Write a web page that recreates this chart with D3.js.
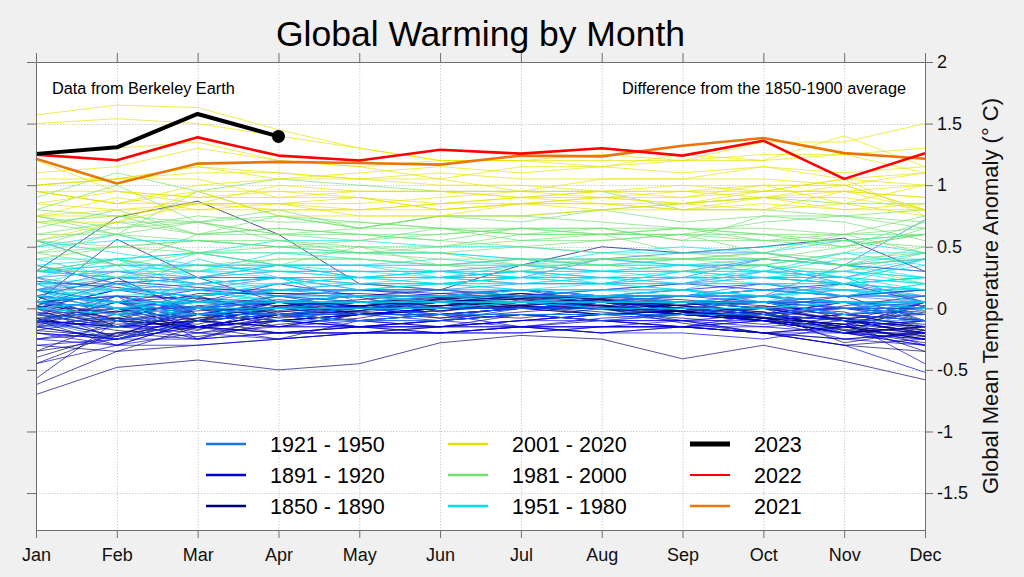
<!DOCTYPE html>
<html><head><meta charset="utf-8">
<script src="https://cdn.jsdelivr.net/npm/d3@7"></script>
<style>
body{margin:0;background:#f0f0f0;}
svg{display:block;font-family:Arial,"Liberation Sans",sans-serif;}
</style>
</head><body>
<svg id="chart" width="1024" height="577"></svg>
<script>
// ---------------- DATA ----------------
const months = ["Jan","Feb","Mar","Apr","May","Jun","Jul","Aug","Sep","Oct","Nov","Dec"];
const yTickValues = [-1.5,-1,-0.5,0,0.5,1,1.5,2];
const titleText = "Global Warming by Month";
const sourceNote = "Data from Berkeley Earth";
const baselineNote = "Difference from the 1850-1900 average";
const yLabel = "Global Mean Temperature Anomaly (° C)";

// monthly anomalies, one row per year
const years1850_1890 = [
[-0.62,-0.35,-0.30,-0.25,-0.10,-0.05,-0.08,0.00,-0.12,-0.20,-0.30,-0.35],
[-0.10,0.05,-0.05,-0.02,0.05,0.08,0.10,0.05,0.02,0.10,0.05,0.02],
[0.05,-0.10,-0.15,-0.05,0.00,0.05,0.02,0.00,-0.05,-0.08,0.02,0.10],
[0.00,-0.15,-0.10,-0.05,-0.02,0.05,0.00,0.05,-0.05,0.02,-0.10,-0.15],
[-0.05,-0.10,-0.02,0.00,0.05,0.02,0.08,0.05,0.00,0.05,-0.08,-0.05],
[0.10,-0.15,-0.05,0.00,0.02,0.05,0.10,0.08,0.05,0.00,-0.10,-0.20],
[-0.12,-0.02,-0.17,-0.07,-0.02,0.08,0.03,0.06,-0.02,-0.07,-0.17,-0.22],
[-0.08,-0.18,-0.23,-0.13,-0.08,0.02,0.05,-0.01,-0.05,-0.03,-0.28,-0.18],
[-0.35,-0.25,-0.15,-0.05,0.00,0.05,0.00,-0.05,-0.02,-0.08,-0.20,-0.10],
[0.05,0.10,0.08,0.05,0.02,0.05,0.10,0.05,0.00,-0.05,-0.15,-0.20],
[-0.03,-0.13,-0.08,0.02,0.07,0.12,0.09,0.05,0.02,-0.03,-0.18,-0.23],
[-0.57,-0.10,-0.15,-0.10,-0.05,0.00,0.02,-0.05,-0.02,-0.10,-0.20,-0.15],
[-0.70,-0.48,-0.42,-0.50,-0.45,-0.28,-0.22,-0.25,-0.41,-0.30,-0.43,-0.58],
[0.05,0.56,0.25,0.05,-0.05,0.00,0.05,0.02,-0.05,0.00,0.10,-0.10],
[-0.45,-0.20,-0.10,-0.15,-0.05,-0.02,0.05,0.00,-0.10,-0.20,-0.15,-0.25],
[0.00,-0.25,-0.10,0.05,0.02,0.05,0.08,0.10,0.05,0.00,-0.05,-0.02],
[0.15,0.05,-0.10,0.00,0.05,0.02,0.10,0.05,0.00,-0.05,-0.10,-0.15],
[-0.15,0.10,-0.25,-0.05,-0.02,0.05,0.08,0.02,0.05,0.00,-0.10,-0.20],
[-0.35,-0.10,0.10,-0.05,0.00,0.05,0.02,0.08,0.00,-0.10,-0.20,0.05],
[0.10,0.25,-0.05,0.05,0.00,0.02,0.05,0.00,0.05,-0.05,0.00,-0.10],
[-0.18,-0.08,-0.13,0.02,0.05,0.09,0.12,0.07,0.02,-0.03,-0.08,-0.23],
[-0.08,-0.23,0.02,0.07,0.02,0.07,0.12,0.07,-0.03,-0.08,-0.18,-0.28],
[-0.13,-0.08,-0.18,0.02,0.05,0.07,0.12,0.09,0.07,0.02,-0.03,-0.18],
[-0.05,-0.15,-0.05,-0.10,-0.05,0.00,0.05,0.00,-0.05,-0.10,-0.05,-0.15],
[0.10,-0.10,-0.15,-0.05,-0.10,-0.05,0.00,-0.05,-0.02,-0.10,-0.20,-0.15],
[-0.10,-0.30,-0.10,-0.15,-0.05,0.00,0.00,0.03,-0.05,-0.10,-0.20,-0.15],
[0.05,-0.05,-0.20,-0.10,-0.05,-0.02,0.02,0.00,-0.02,0.00,-0.20,-0.30],
[-0.05,0.00,-0.10,0.05,0.10,0.15,0.35,0.50,0.45,0.50,0.57,0.30],
[0.30,0.74,0.87,0.60,0.20,0.15,0.10,0.05,0.00,-0.05,-0.15,-0.25],
[0.02,-0.03,0.02,-0.08,-0.03,0.02,0.05,0.07,-0.03,-0.08,-0.13,-0.35],
[0.02,-0.08,0.07,0.02,-0.03,-0.08,-0.03,0.02,-0.03,-0.08,-0.13,-0.03],
[-0.08,-0.03,0.12,0.12,0.09,-0.03,0.07,0.02,-0.03,-0.08,-0.13,0.02],
[0.22,0.17,0.09,-0.03,0.02,-0.08,0.02,0.07,0.02,-0.08,-0.08,-0.18],
[-0.18,-0.23,-0.08,-0.03,0.02,0.07,0.02,-0.03,-0.08,-0.13,-0.08,-0.13],
[-0.10,0.00,-0.15,-0.20,-0.15,-0.20,-0.15,-0.10,-0.15,-0.20,-0.25,-0.20],
[-0.40,-0.20,-0.15,-0.25,-0.20,-0.15,-0.10,-0.05,-0.05,-0.10,-0.05,0.00],
[-0.15,-0.25,-0.10,-0.05,-0.10,-0.15,-0.05,-0.10,-0.05,-0.10,-0.15,-0.20],
[-0.30,-0.35,-0.15,-0.20,-0.15,-0.10,-0.05,-0.10,-0.15,-0.20,-0.15,-0.25],
[-0.25,-0.20,-0.25,-0.10,-0.05,-0.05,0.00,0.00,0.03,0.05,0.00,0.00],
[0.02,0.22,0.17,0.12,0.12,0.09,0.07,0.02,-0.03,-0.08,-0.13,-0.18],
[-0.10,-0.15,-0.10,-0.20,-0.20,-0.15,-0.15,-0.20,-0.15,-0.20,-0.30,-0.25]
];
const years1891_1920 = [
[-0.10,-0.22,0.00,-0.05,0.02,-0.05,0.00,0.05,0.00,-0.05,-0.15,0.05],
[-0.12,0.05,-0.15,-0.10,-0.15,-0.10,-0.15,-0.08,-0.05,-0.10,-0.20,-0.25],
[-0.45,-0.30,-0.10,-0.15,-0.15,-0.10,-0.05,-0.10,-0.10,-0.05,-0.10,-0.20],
[-0.15,-0.05,0.00,-0.05,-0.10,-0.10,-0.05,-0.05,-0.05,0.00,-0.05,0.00],
[-0.20,-0.25,-0.10,-0.05,-0.05,0.00,0.00,0.05,0.05,0.00,0.00,-0.05],
[0.05,0.00,-0.05,0.00,0.05,0.10,0.15,0.10,0.10,0.15,0.10,0.15],
[0.10,0.05,0.10,0.15,0.15,0.10,0.15,0.10,0.05,0.05,0.00,-0.05],
[0.05,0.00,-0.15,-0.05,-0.05,0.00,0.00,0.00,-0.05,-0.10,-0.15,-0.10],
[0.00,-0.10,-0.05,0.00,0.00,0.05,0.10,0.15,0.20,0.15,0.20,0.05],
[0.00,0.15,0.15,0.15,0.15,0.12,0.15,0.10,0.15,0.20,0.10,0.10],
[0.10,0.05,0.15,0.10,0.05,0.05,0.05,0.00,0.00,-0.05,-0.10,-0.15],
[0.05,0.10,0.00,0.00,-0.05,-0.10,-0.05,-0.10,-0.10,-0.15,-0.20,-0.25],
[-0.05,0.10,-0.05,-0.10,-0.15,-0.20,-0.15,-0.20,-0.15,-0.20,-0.25,-0.30],
[-0.30,-0.25,-0.25,-0.20,-0.20,-0.20,-0.15,-0.15,-0.15,-0.10,-0.05,-0.10],
[-0.15,-0.25,-0.05,-0.10,-0.05,-0.05,0.00,0.00,0.00,-0.05,0.05,0.00],
[-0.05,-0.15,-0.05,0.05,-0.05,0.00,0.00,0.05,-0.05,0.00,-0.10,0.05],
[-0.20,-0.25,-0.15,-0.20,-0.20,-0.20,-0.15,-0.15,-0.15,-0.10,-0.25,-0.20],
[-0.15,-0.10,-0.25,-0.20,-0.15,-0.15,-0.15,-0.15,-0.10,-0.20,-0.20,-0.20],
[-0.25,-0.15,-0.20,-0.25,-0.20,-0.20,-0.20,-0.15,-0.15,-0.15,-0.10,-0.30],
[-0.10,-0.15,-0.15,-0.10,-0.15,-0.15,-0.10,-0.10,-0.15,-0.20,-0.30,-0.52],
[-0.25,-0.30,-0.30,-0.25,-0.20,-0.20,-0.20,-0.15,-0.15,-0.05,0.00,0.00],
[0.00,-0.05,0.00,0.05,0.00,-0.05,-0.15,-0.20,-0.20,-0.25,-0.15,-0.10],
[-0.10,-0.15,-0.15,-0.05,-0.15,-0.15,-0.10,-0.05,-0.05,-0.05,0.05,0.05],
[0.15,0.05,0.00,0.05,0.10,0.10,0.10,0.10,0.10,0.15,0.10,0.15],
[0.00,0.15,0.05,0.20,0.10,0.10,0.15,0.05,0.10,0.05,0.05,0.00],
[0.05,0.00,-0.05,-0.05,-0.10,-0.15,-0.10,-0.05,-0.10,-0.10,-0.20,-0.30],
[-0.20,-0.30,-0.20,-0.15,-0.15,-0.10,0.00,0.05,0.05,-0.05,-0.10,-0.45],
[-0.10,-0.15,0.00,-0.15,-0.10,-0.05,0.00,0.00,0.05,0.05,0.05,0.05],
[0.10,0.00,0.00,0.10,0.00,0.00,0.05,0.05,0.05,0.05,-0.05,-0.10],
[0.05,0.00,0.05,0.05,0.00,0.00,0.00,0.05,0.05,0.05,-0.05,-0.10]
];
const years1921_1950 = [
[0.15,0.00,0.05,0.00,0.00,0.00,0.05,0.00,0.05,0.10,0.00,0.05],
[-0.05,-0.15,-0.05,-0.05,-0.10,-0.05,-0.05,-0.10,-0.05,-0.05,0.00,-0.05],
[-0.05,-0.10,-0.05,-0.10,-0.10,-0.05,-0.05,-0.05,0.00,0.05,0.10,0.05],
[0.00,-0.10,0.00,-0.05,-0.05,-0.05,-0.05,-0.05,-0.05,-0.05,-0.10,-0.10],
[-0.10,0.00,0.00,0.05,0.00,0.00,0.00,0.05,0.05,0.10,0.15,0.10],
[0.25,0.15,0.20,0.10,0.05,0.05,0.05,0.05,0.05,0.10,0.05,0.00],
[0.05,0.00,-0.05,0.00,0.00,0.00,0.05,0.05,0.10,0.10,0.05,-0.10],
[0.10,0.05,-0.05,0.00,0.00,0.00,0.05,0.05,0.05,0.05,0.05,0.00],
[-0.10,-0.25,-0.10,-0.05,-0.10,-0.10,-0.05,-0.05,-0.05,0.00,0.05,-0.15],
[0.00,0.05,0.05,0.05,0.05,0.05,0.05,0.10,0.10,0.10,0.20,0.10],
[0.10,0.05,0.05,0.05,0.05,0.10,0.15,0.10,0.10,0.15,0.10,0.15],
[0.25,0.05,0.00,0.10,0.10,0.05,0.05,0.05,0.10,0.10,0.00,0.05],
[0.00,-0.05,-0.05,-0.05,0.00,-0.05,0.00,0.00,0.00,0.00,-0.05,-0.10],
[0.05,0.10,0.00,0.05,0.10,0.05,0.05,0.05,0.05,0.05,0.10,0.10],
[0.00,0.20,0.05,0.00,0.00,0.00,0.05,0.05,0.05,0.05,-0.05,0.05],
[0.05,0.00,0.05,0.05,0.10,0.10,0.10,0.10,0.10,0.15,0.15,0.15],
[0.15,0.20,0.05,0.15,0.20,0.20,0.25,0.25,0.25,0.25,0.20,0.15],
[0.30,0.25,0.25,0.25,0.15,0.15,0.15,0.15,0.20,0.30,0.25,0.05],
[0.15,0.15,0.10,0.15,0.15,0.15,0.10,0.15,0.15,0.10,0.35,0.72],
[0.15,0.25,0.20,0.25,0.25,0.25,0.30,0.25,0.25,0.25,0.25,0.40],
[0.25,0.30,0.25,0.30,0.30,0.30,0.35,0.30,0.30,0.40,0.35,0.30],
[0.35,0.20,0.25,0.25,0.25,0.25,0.20,0.20,0.20,0.25,0.20,0.25],
[0.15,0.30,0.20,0.25,0.20,0.15,0.20,0.20,0.25,0.40,0.35,0.40],
[0.55,0.35,0.35,0.35,0.35,0.35,0.40,0.40,0.45,0.45,0.35,0.30],
[0.35,0.20,0.25,0.35,0.25,0.25,0.25,0.40,0.35,0.35,0.20,0.05],
[0.20,0.20,0.15,0.25,0.05,0.00,0.10,0.10,0.15,0.05,0.05,-0.10],
[0.05,-0.05,0.10,0.15,0.10,0.10,0.15,0.10,0.10,0.20,0.15,0.05],
[0.20,0.00,-0.05,0.10,0.15,0.15,0.10,0.05,0.10,0.10,0.05,-0.05],
[0.15,-0.05,0.05,0.05,0.05,0.00,0.05,0.05,0.05,0.05,0.00,0.00],
[-0.15,-0.15,0.00,-0.05,0.00,0.05,0.05,0.00,0.00,-0.05,-0.20,0.00]
];
const years1951_1980 = [
[0.00,-0.05,0.10,0.20,0.25,0.25,0.30,0.30,0.35,0.35,0.25,0.35],
[0.30,0.25,0.20,0.25,0.20,0.20,0.25,0.25,0.25,0.20,0.10,0.20],
[0.30,0.35,0.35,0.35,0.30,0.30,0.25,0.25,0.25,0.25,0.20,0.25],
[0.05,0.20,0.05,0.05,0.05,0.05,0.05,0.05,0.05,0.10,0.15,0.05],
[0.20,0.00,-0.05,0.00,0.05,0.05,0.05,0.10,0.05,0.05,-0.05,0.00],
[0.00,-0.05,0.00,0.00,0.00,0.00,0.05,0.05,0.05,0.00,0.05,0.05],
[0.10,0.15,0.10,0.20,0.25,0.30,0.30,0.30,0.25,0.25,0.30,0.40],
[0.55,0.45,0.35,0.30,0.30,0.25,0.30,0.25,0.25,0.30,0.30,0.25],
[0.30,0.30,0.35,0.30,0.25,0.25,0.25,0.25,0.20,0.20,0.20,0.25],
[0.20,0.35,0.00,0.15,0.15,0.20,0.20,0.25,0.25,0.25,0.20,0.40],
[0.30,0.40,0.30,0.35,0.35,0.30,0.25,0.30,0.30,0.25,0.30,0.20],
[0.30,0.35,0.30,0.30,0.25,0.30,0.25,0.25,0.30,0.30,0.30,0.25],
[0.25,0.40,0.15,0.20,0.25,0.25,0.35,0.35,0.40,0.40,0.35,0.25],
[0.20,0.15,0.15,0.05,0.05,0.10,0.05,0.00,0.00,0.00,0.05,0.00],
[0.15,0.10,0.15,0.05,0.10,0.10,0.10,0.10,0.10,0.15,0.10,0.20],
[0.15,0.15,0.25,0.15,0.20,0.20,0.25,0.20,0.20,0.20,0.20,0.15],
[0.15,0.05,0.20,0.20,0.20,0.25,0.20,0.25,0.20,0.35,0.25,0.20],
[0.05,0.15,0.40,0.25,0.15,0.20,0.20,0.20,0.15,0.30,0.20,0.15],
[0.20,0.25,0.30,0.45,0.40,0.35,0.35,0.30,0.35,0.35,0.45,0.45],
[0.35,0.40,0.25,0.35,0.25,0.20,0.25,0.20,0.30,0.25,0.25,0.15],
[0.10,0.05,0.05,0.10,0.10,0.05,0.15,0.15,0.10,0.15,0.15,0.15],
[0.00,0.05,0.20,0.25,0.25,0.30,0.30,0.40,0.35,0.40,0.35,0.45],
[0.50,0.55,0.55,0.50,0.45,0.45,0.40,0.35,0.35,0.30,0.25,0.20],
[0.05,0.00,0.10,0.15,0.15,0.20,0.15,0.20,0.15,0.10,0.15,0.10],
[0.30,0.30,0.30,0.25,0.25,0.20,0.15,0.10,0.15,0.10,0.05,0.05],
[0.10,0.00,0.05,0.15,0.10,0.10,0.15,0.15,0.15,0.05,0.20,0.25],
[0.30,0.40,0.45,0.45,0.45,0.45,0.40,0.35,0.35,0.30,0.45,0.35],
[0.40,0.40,0.45,0.35,0.35,0.25,0.30,0.20,0.30,0.30,0.40,0.40],
[0.40,0.25,0.45,0.35,0.35,0.40,0.35,0.45,0.45,0.50,0.55,0.60],
[0.50,0.60,0.45,0.55,0.55,0.50,0.50,0.45,0.50,0.45,0.55,0.45]
];
const years1981_2000 = [
[0.75,0.60,0.70,0.55,0.50,0.50,0.55,0.60,0.45,0.40,0.50,0.70],
[0.30,0.40,0.30,0.40,0.40,0.35,0.40,0.35,0.40,0.35,0.45,0.65],
[0.80,0.75,0.70,0.60,0.60,0.55,0.50,0.55,0.60,0.45,0.60,0.45],
[0.45,0.35,0.45,0.35,0.50,0.35,0.35,0.40,0.40,0.40,0.35,0.20],
[0.35,0.25,0.35,0.40,0.40,0.35,0.30,0.40,0.40,0.40,0.35,0.40],
[0.45,0.50,0.45,0.45,0.45,0.40,0.40,0.40,0.40,0.45,0.40,0.45],
[0.45,0.60,0.45,0.50,0.55,0.60,0.65,0.60,0.65,0.60,0.60,0.75],
[0.75,0.65,0.75,0.70,0.70,0.65,0.60,0.60,0.60,0.55,0.50,0.60],
[0.40,0.50,0.55,0.55,0.45,0.50,0.60,0.60,0.60,0.60,0.50,0.60],
[0.60,0.60,0.95,0.75,0.70,0.65,0.60,0.65,0.55,0.75,0.75,0.65],
[0.70,0.75,0.60,0.75,0.65,0.75,0.75,0.70,0.65,0.55,0.55,0.60],
[0.70,0.60,0.55,0.50,0.45,0.45,0.35,0.35,0.30,0.35,0.30,0.45],
[0.55,0.50,0.55,0.50,0.50,0.45,0.50,0.45,0.40,0.45,0.35,0.50],
[0.55,0.35,0.60,0.60,0.55,0.65,0.55,0.55,0.60,0.70,0.75,0.70],
[0.80,1.00,0.70,0.75,0.65,0.75,0.75,0.80,0.70,0.75,0.70,0.55],
[0.60,0.70,0.60,0.65,0.60,0.55,0.65,0.65,0.55,0.55,0.60,0.60],
[0.55,0.65,0.70,0.60,0.65,0.75,0.70,0.80,0.85,0.90,0.85,0.85],
[0.90,1.10,0.95,1.05,1.00,0.95,0.95,0.95,0.80,0.80,0.75,0.80],
[0.65,0.80,0.60,0.65,0.60,0.60,0.65,0.60,0.65,0.65,0.60,0.65],
[0.50,0.70,0.70,0.80,0.65,0.65,0.65,0.65,0.65,0.60,0.55,0.50]
];
const years2001_2020 = [
[0.70,0.70,0.85,0.80,0.80,0.80,0.85,0.85,0.80,0.80,0.95,0.80],
[1.00,1.05,1.05,0.90,0.90,0.85,0.90,0.85,0.85,0.80,0.85,0.75],
[0.95,0.85,0.85,0.85,0.90,0.80,0.85,0.90,0.90,1.00,0.85,1.00],
[0.85,0.95,0.85,0.85,0.75,0.75,0.75,0.80,0.85,0.90,1.00,0.80],
[0.95,0.85,0.95,0.95,0.95,0.95,0.95,0.90,0.95,0.95,0.95,0.90],
[0.75,0.90,0.80,0.80,0.80,0.85,0.85,0.90,0.85,0.95,0.95,1.00],
[1.20,0.95,0.90,0.95,0.90,0.80,0.85,0.85,0.80,0.85,0.80,0.80],
[0.55,0.70,0.95,0.75,0.75,0.75,0.85,0.80,0.80,0.90,0.90,0.80],
[0.85,0.80,0.80,0.85,0.85,0.90,0.95,0.95,0.95,0.90,0.95,0.90],
[1.00,1.05,1.15,1.10,1.05,1.00,1.00,0.95,0.90,0.95,1.05,0.75],
[0.75,0.75,0.85,0.85,0.80,0.85,0.90,0.90,0.85,0.90,0.80,0.85],
[0.75,0.80,0.85,1.00,0.95,0.95,0.90,0.95,0.95,1.00,1.00,0.80],
[0.95,0.95,0.90,0.90,0.95,0.95,0.90,0.95,1.00,0.95,1.05,1.00],
[0.95,0.85,1.00,1.05,1.05,1.05,0.95,1.05,1.05,1.05,1.00,1.10],
[1.05,1.05,1.15,1.05,1.10,1.15,1.10,1.15,1.20,1.35,1.35,1.50],
[1.57,1.65,1.63,1.45,1.30,1.20,1.20,1.25,1.20,1.20,1.25,1.10],
[1.25,1.30,1.35,1.20,1.15,1.05,1.15,1.15,1.10,1.15,1.10,1.15],
[1.00,1.05,1.10,1.10,1.05,1.10,1.05,1.05,1.05,1.15,1.05,1.10],
[1.10,1.15,1.30,1.20,1.15,1.20,1.20,1.20,1.20,1.25,1.25,1.30],
[1.50,1.54,1.50,1.40,1.30,1.20,1.20,1.15,1.25,1.20,1.40,1.15]
];
const values2021 = [1.215,1.013,1.175,1.189,1.18,1.167,1.24,1.234,1.32,1.383,1.26,1.215];
const values2022 = [1.248,1.202,1.388,1.24,1.20,1.288,1.256,1.30,1.24,1.361,1.051,1.26];
const values2023 = [1.254,1.307,1.578,1.396];

const groupNames = ["1850 - 1890","1891 - 1920","1921 - 1950","1951 - 1980","1981 - 2000","2001 - 2020"];
const groupColors = ["#000072","#0000e0","#1a78e6","#00e2ea","#70e070","#e4e400"];
const groupData = [years1850_1890,years1891_1920,years1921_1950,years1951_1980,years1981_2000,years2001_2020];

const highlightNames = ["2023","2022","2021"];
const highlightColors = ["#000000","#ff0000","#e8760c"];
const highlightWidths = [4,2.6,2.6];
const highlightLegendWidths = [5,2.2,2.6];
const highlightData = [values2023,values2022,values2021];

// ---------------- LAYOUT ----------------
const W = 1024, H = 577;
const margin = {left:36, right:99, top:62, bottom:47};
const svg = d3.select("#chart");
svg.append("rect").attr("width",W).attr("height",H).attr("fill","#f0f0f0");

const x = d3.scaleLinear().domain([0,11]).range([margin.left, W-margin.right]);
const y = d3.scaleLinear().domain([-1.8,2]).range([H-margin.bottom, margin.top]);
const x0 = x.range()[0], x1 = x.range()[1], y0 = y.range()[0], y1 = y.range()[1];

svg.append("rect").attr("x",x0).attr("y",y1).attr("width",x1-x0).attr("height",y0-y1).attr("fill","#ffffff");

// grid
const grid = svg.append("g").attr("stroke","#cfcfcf").attr("stroke-width",1).attr("stroke-dasharray","1.5,1.5");
grid.selectAll("line.v").data(d3.range(1,11)).join("line")
  .attr("x1",d=>x(d)+0.5).attr("x2",d=>x(d)+0.5).attr("y1",y1).attr("y2",y0);
grid.selectAll("line.h").data(yTickValues.filter(v=>v<2)).join("line")
  .attr("x1",x0).attr("x2",x1).attr("y1",d=>Math.round(y(d))+0.5).attr("y2",d=>Math.round(y(d))+0.5);

// lines
const line = d3.line().x((d,i)=>x(i)).y(d=>y(d));
const plot = svg.append("g");
groupData.forEach((rows,gi)=>{
  plot.append("g").selectAll("path").data(rows).join("path")
    .attr("d",line).attr("fill","none")
    .attr("stroke",groupColors[gi]).attr("stroke-width",1).attr("stroke-opacity",0.68);
});
[2,1,0].forEach(i=>{
  plot.append("path").datum(highlightData[i]).attr("d",line).attr("fill","none")
    .attr("stroke",highlightColors[i]).attr("stroke-width",highlightWidths[i])
    .attr("stroke-linejoin","round");
});
plot.append("circle").attr("cx",x(values2023.length-1)).attr("cy",y(values2023[values2023.length-1]))
  .attr("r",6.5).attr("fill","#000");

// axes
const axisColor = "#6e6e6e";
function styleAxis(g, labels){
  g.select(".domain").attr("stroke",axisColor);
  g.selectAll(".tick line").attr("stroke",axisColor);
  g.selectAll(".tick text").attr("fill","#111").attr("font-size",18).attr("font-family","Arial,'Liberation Sans',sans-serif");
  if(!labels) g.selectAll(".tick text").remove();
}
const fmt = d => String(d);
svg.append("g").attr("transform",`translate(${x0},0)`)
  .call(d3.axisLeft(y).tickValues(yTickValues).tickSize(9).tickSizeOuter(0).tickFormat(fmt))
  .call(g=>styleAxis(g,false));
svg.append("g").attr("transform",`translate(${x1},0)`)
  .call(d3.axisRight(y).tickValues(yTickValues).tickSize(8).tickSizeOuter(0).tickPadding(4).tickFormat(fmt))
  .call(g=>styleAxis(g,true));
svg.append("g").attr("transform",`translate(0,${y1})`)
  .call(d3.axisTop(x).tickValues(d3.range(12)).tickSize(9).tickSizeOuter(0).tickFormat(i=>months[i]))
  .call(g=>styleAxis(g,false));
svg.append("g").attr("transform",`translate(0,${y0})`)
  .call(d3.axisBottom(x).tickValues(d3.range(12)).tickSize(8).tickSizeOuter(0).tickPadding(10).tickFormat(i=>months[i]))
  .call(g=>styleAxis(g,true));

// texts
svg.append("text").attr("x",(x0+x1)/2).attr("y",46).attr("text-anchor","middle")
  .attr("font-size",35.5).attr("fill","#000").text(titleText);
svg.append("text").attr("x",52).attr("y",94).attr("font-size",16.3).attr("fill","#000").text(sourceNote);
svg.append("text").attr("x",906).attr("y",94).attr("text-anchor","end").attr("font-size",16.3).attr("fill","#000").text(baselineNote);
svg.append("text").attr("transform",`translate(998,${(y0+y1)/2}) rotate(-90)`).attr("text-anchor","middle")
  .attr("font-size",22).attr("fill","#111").text(yLabel);

// legend
const legendCols = [
  {lx:206, tx:270, items:[2,1,0].map(i=>({name:groupNames[i],color:groupColors[i],w:2.5}))},
  {lx:448, tx:512, items:[5,4,3].map(i=>({name:groupNames[i],color:groupColors[i],w:2.5}))},
  {lx:690, tx:754, items:[0,1,2].map(i=>({name:highlightNames[i],color:highlightColors[i],w:highlightLegendWidths[i]}))}
];
const rowY = [444,475,506];
const leg = svg.append("g");
legendCols.forEach(col=>{
  col.items.forEach((it,r)=>{
    leg.append("line").attr("x1",col.lx).attr("x2",col.lx+40).attr("y1",rowY[r]).attr("y2",rowY[r])
      .attr("stroke",it.color).attr("stroke-width",it.w);
    leg.append("text").attr("x",col.tx).attr("y",rowY[r]+8).attr("font-size",21.5).attr("fill","#000").text(it.name);
  });
});
</script>
</body></html>
